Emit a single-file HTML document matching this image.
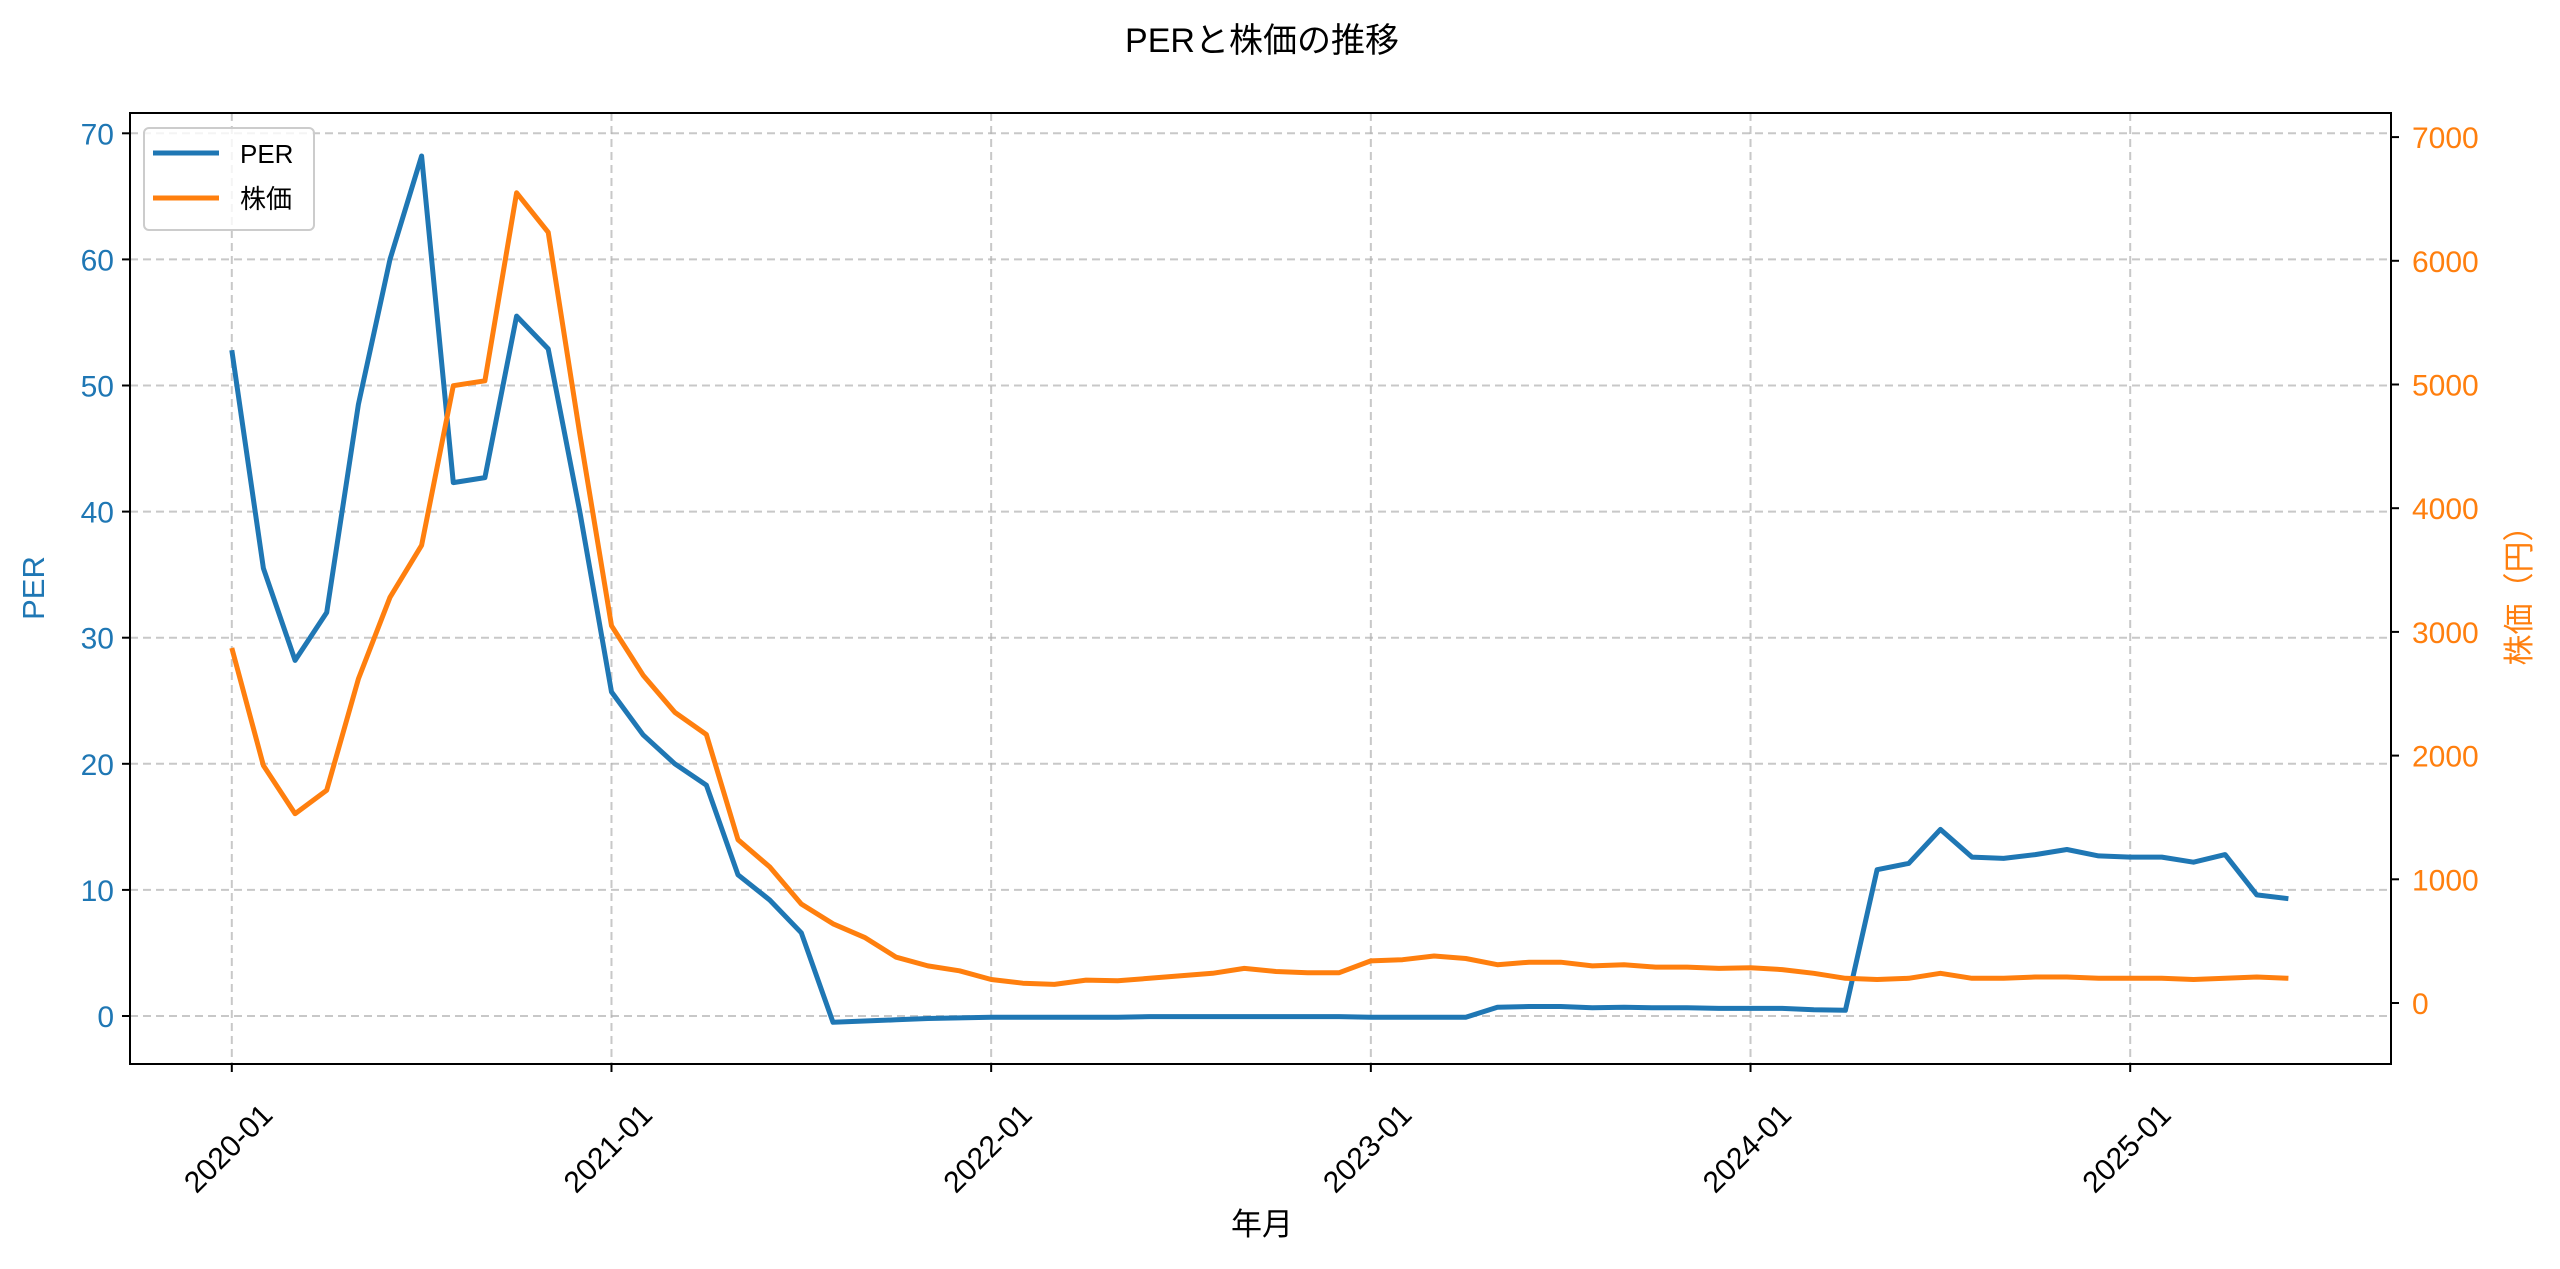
<!DOCTYPE html>
<html><head><meta charset="utf-8"><style>
html,body{margin:0;padding:0;background:#fff;}
svg{display:block;font-family:"Liberation Sans","Noto Sans CJK JP",sans-serif;}
</style></head><body>
<svg id="chart" width="2560" height="1269" viewBox="0 0 2560 1269">
<rect width="2560" height="1269" fill="#fff"/>
<text x="1262" y="52" font-size="34" text-anchor="middle" fill="#000">PERと株価の推移</text>
<g id="grid"></g>
<g id="series"></g>
<rect x="130" y="113" width="2261" height="951" fill="none" stroke="#000" stroke-width="2"/>
<g id="axes"></g>
<text transform="translate(44,588) rotate(-90)" font-size="31" text-anchor="middle" fill="#1f77b4">PER</text>
<text transform="translate(2530,588) rotate(-90)" font-size="31" text-anchor="middle" fill="#ff7f0e">株価（円）</text>
<text x="1262" y="1235" font-size="31" text-anchor="middle" fill="#000">年月</text>
<g>
<rect x="144" y="128" width="170" height="102" rx="5" fill="#fff" fill-opacity="0.8" stroke="#ccc" stroke-width="2"/>
<line x1="153" y1="153" x2="219" y2="153" stroke="#1f77b4" stroke-width="5"/>
<text x="240" y="163" font-size="26" fill="#000">PER</text>
<line x1="153" y1="198" x2="219" y2="198" stroke="#ff7f0e" stroke-width="5"/>
<text x="240" y="208" font-size="26" fill="#000">株価</text>
</g>
</svg>
<script>
const perValues = [52.8,35.5,28.2,32,48.5,60,68.2,42.3,42.7,55.5,52.9,40,
25.7,22.3,20,18.3,11.2,9.2,6.6,-0.5,-0.4,-0.3,-0.2,-0.15,
-0.1,-0.1,-0.1,-0.1,-0.1,-0.05,-0.05,-0.05,-0.05,-0.05,-0.05,-0.05,
-0.1,-0.1,-0.1,-0.1,0.7,0.75,0.75,0.65,0.7,0.65,0.65,0.6,
0.6,0.6,0.5,0.45,11.6,12.1,14.8,12.6,12.5,12.8,13.2,12.7,
12.6,12.6,12.2,12.8,9.6,9.3];
const priceValues = [2870,1920,1530,1720,2620,3280,3700,4990,5030,6550,6230,4600,
3050,2650,2350,2170,1320,1100,800,640,530,370,300,260,
190,160,150,185,180,200,220,240,280,255,245,245,
340,350,380,360,310,330,330,300,310,290,290,280,
285,270,240,200,190,200,240,200,200,210,210,200,
200,200,190,200,210,200];
const startYear = 2020, startMonth = 1;
const leftTicks = [0,10,20,30,40,50,60,70];
const rightTicks = [0,1000,2000,3000,4000,5000,6000,7000];
const xTickLabels = ["2020-01","2021-01","2022-01","2023-01","2024-01","2025-01"];

const L=130,R=2391,T=113,B=1064;
const xScale = m => 231.8 + m*31.64;
const yLeft = v => 1016 - v*12.61;
const yRight = v => 1003 - v*0.1237;
const NS="http://www.w3.org/2000/svg";
const grid=document.getElementById('grid'), axes=document.getElementById('axes'), series=document.getElementById('series');
function mk(tag,attrs,parent){const e=document.createElementNS(NS,tag);for(const k in attrs)e.setAttribute(k,attrs[k]);parent.appendChild(e);return e;}

leftTicks.forEach(v=>{
  const y=yLeft(v);
  const g=mk('line',{x1:L,x2:R,y1:y,y2:y,stroke:'#b0b0b0','stroke-width':2,'stroke-dasharray':'8,5','stroke-opacity':0.7},grid);
  
  
  const t=mk('line',{x1:L-8,x2:L,y1:y,y2:y,stroke:'#000','stroke-width':2},axes);
  
  
  const tx=mk('text',{x:L-16,y:y+11,'font-size':30,'text-anchor':'end',fill:'#1f77b4'},axes);
  tx.textContent=v;
  
  
});
rightTicks.forEach(v=>{
  const y=yRight(v);
  const t=mk('line',{x1:R,x2:R+8,y1:y,y2:y,stroke:'#000','stroke-width':2},axes);
  
  
  const tx=mk('text',{x:R+21,y:y+11,'font-size':30,'text-anchor':'start',fill:'#ff7f0e'},axes);
  tx.textContent=v;
  
  
});
xTickLabels.forEach(lbl=>{
  const [yy,mm]=lbl.split('-').map(Number);
  const m=(yy-startYear)*12+(mm-startMonth);
  const x=xScale(m);
  const g=mk('line',{x1:x,x2:x,y1:T,y2:B,stroke:'#b0b0b0','stroke-width':2,'stroke-dasharray':'8,5','stroke-opacity':0.7},grid);
  
  
  const t=mk('line',{x1:x,x2:x,y1:B,y2:B+8,stroke:'#000','stroke-width':2},axes);
  
  
  const tx=mk('text',{transform:`translate(${x-2},${1150}) rotate(-45)`,'font-size':30,'text-anchor':'middle','dominant-baseline':'middle',fill:'#000'},axes);
  tx.textContent=lbl;
  
  
});
const perPts=perValues.map((v,i)=>xScale(i).toFixed(1)+','+yLeft(v).toFixed(1)).join(' ');
const pl=mk('polyline',{points:perPts,fill:'none',stroke:'#1f77b4','stroke-width':5,'stroke-linejoin':'round'},series);


const prPts=priceValues.map((v,i)=>xScale(i).toFixed(1)+','+yRight(v).toFixed(1)).join(' ');
const pr=mk('polyline',{points:prPts,fill:'none',stroke:'#ff7f0e','stroke-width':5,'stroke-linejoin':'round'},series);


</script>
</body></html>
